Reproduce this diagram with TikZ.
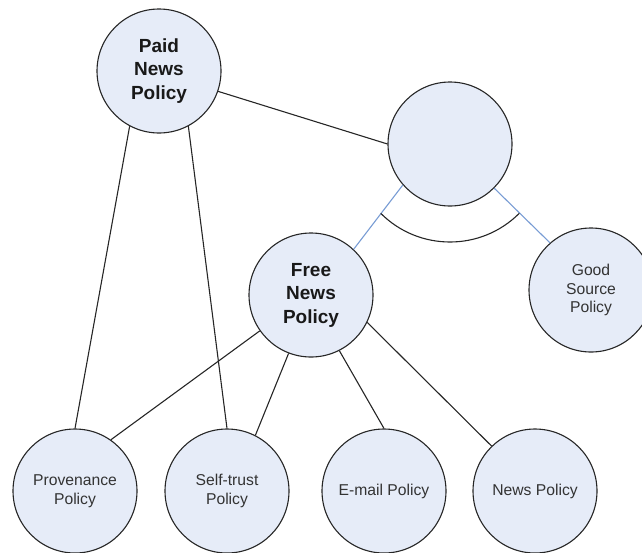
\documentclass[tikz,border=0pt]{standalone}
\usepackage{fontspec}
\setmainfont{Liberation Sans}
\usetikzlibrary{positioning, calc}
\definecolor{policyfill}{RGB}{230,236,248}
\definecolor{linkblue}{RGB}{120,156,212}
\begin{document}
\begin{tikzpicture}[x=1pt, y=-1pt, policy/.style={circle, draw=black!85, line width=1.1pt,
    fill=policyfill, minimum size=124pt, inner sep=0pt, align=center,
    font=\fontsize{15.7}{18.6}\selectfont, text=black!80},
    bold/.style={font=\fontsize{19}{23.5}\selectfont\bfseries, text=black!90},
    link/.style={draw=black!85, line width=1.1pt}, blue link/.style={draw=linkblue, line width=1.1pt}]
  \useasboundingbox (0,0) rectangle (642,552);

  \node[policy,bold] (paid) at (159,71) {Paid\\News\\Policy};
  \node[policy] (join) at (450,144) {};
  \node[policy,bold] (free) at (311,295) {Free\\News\\Policy};
  \node[policy] (good) at (591,290) {Good\\Source\\Policy};
  \node[policy] (prov) at (75,491) {Provenance\\Policy};
  \node[policy] (self) at (227,491) {Self-trust\\Policy};
  \node[policy] (mail) at (384,491) {E-mail Policy};
  \node[policy] (news) at (535,491) {News Policy};

  \draw[link] (paid.242) -- (prov.90);
  \draw[link] (paid.298) -- (self.90);
  \draw[link] (paid.341) -- (join.180);
  \draw[link] (free.215) -- (prov.55);
  \draw[link] (free.249) -- (self.63);
  \draw[link] (free.297) -- (mail.90);
  \draw[link] (free.334) -- (news.134);
  \draw[blue link] (join.221) -- (free.47);
  \draw[blue link] (join.315) -- (good.131);
  \draw[link] ($(join.center)+(135:98)$) arc[start angle=135, end angle=45, radius=98];
\end{tikzpicture}
\end{document}
